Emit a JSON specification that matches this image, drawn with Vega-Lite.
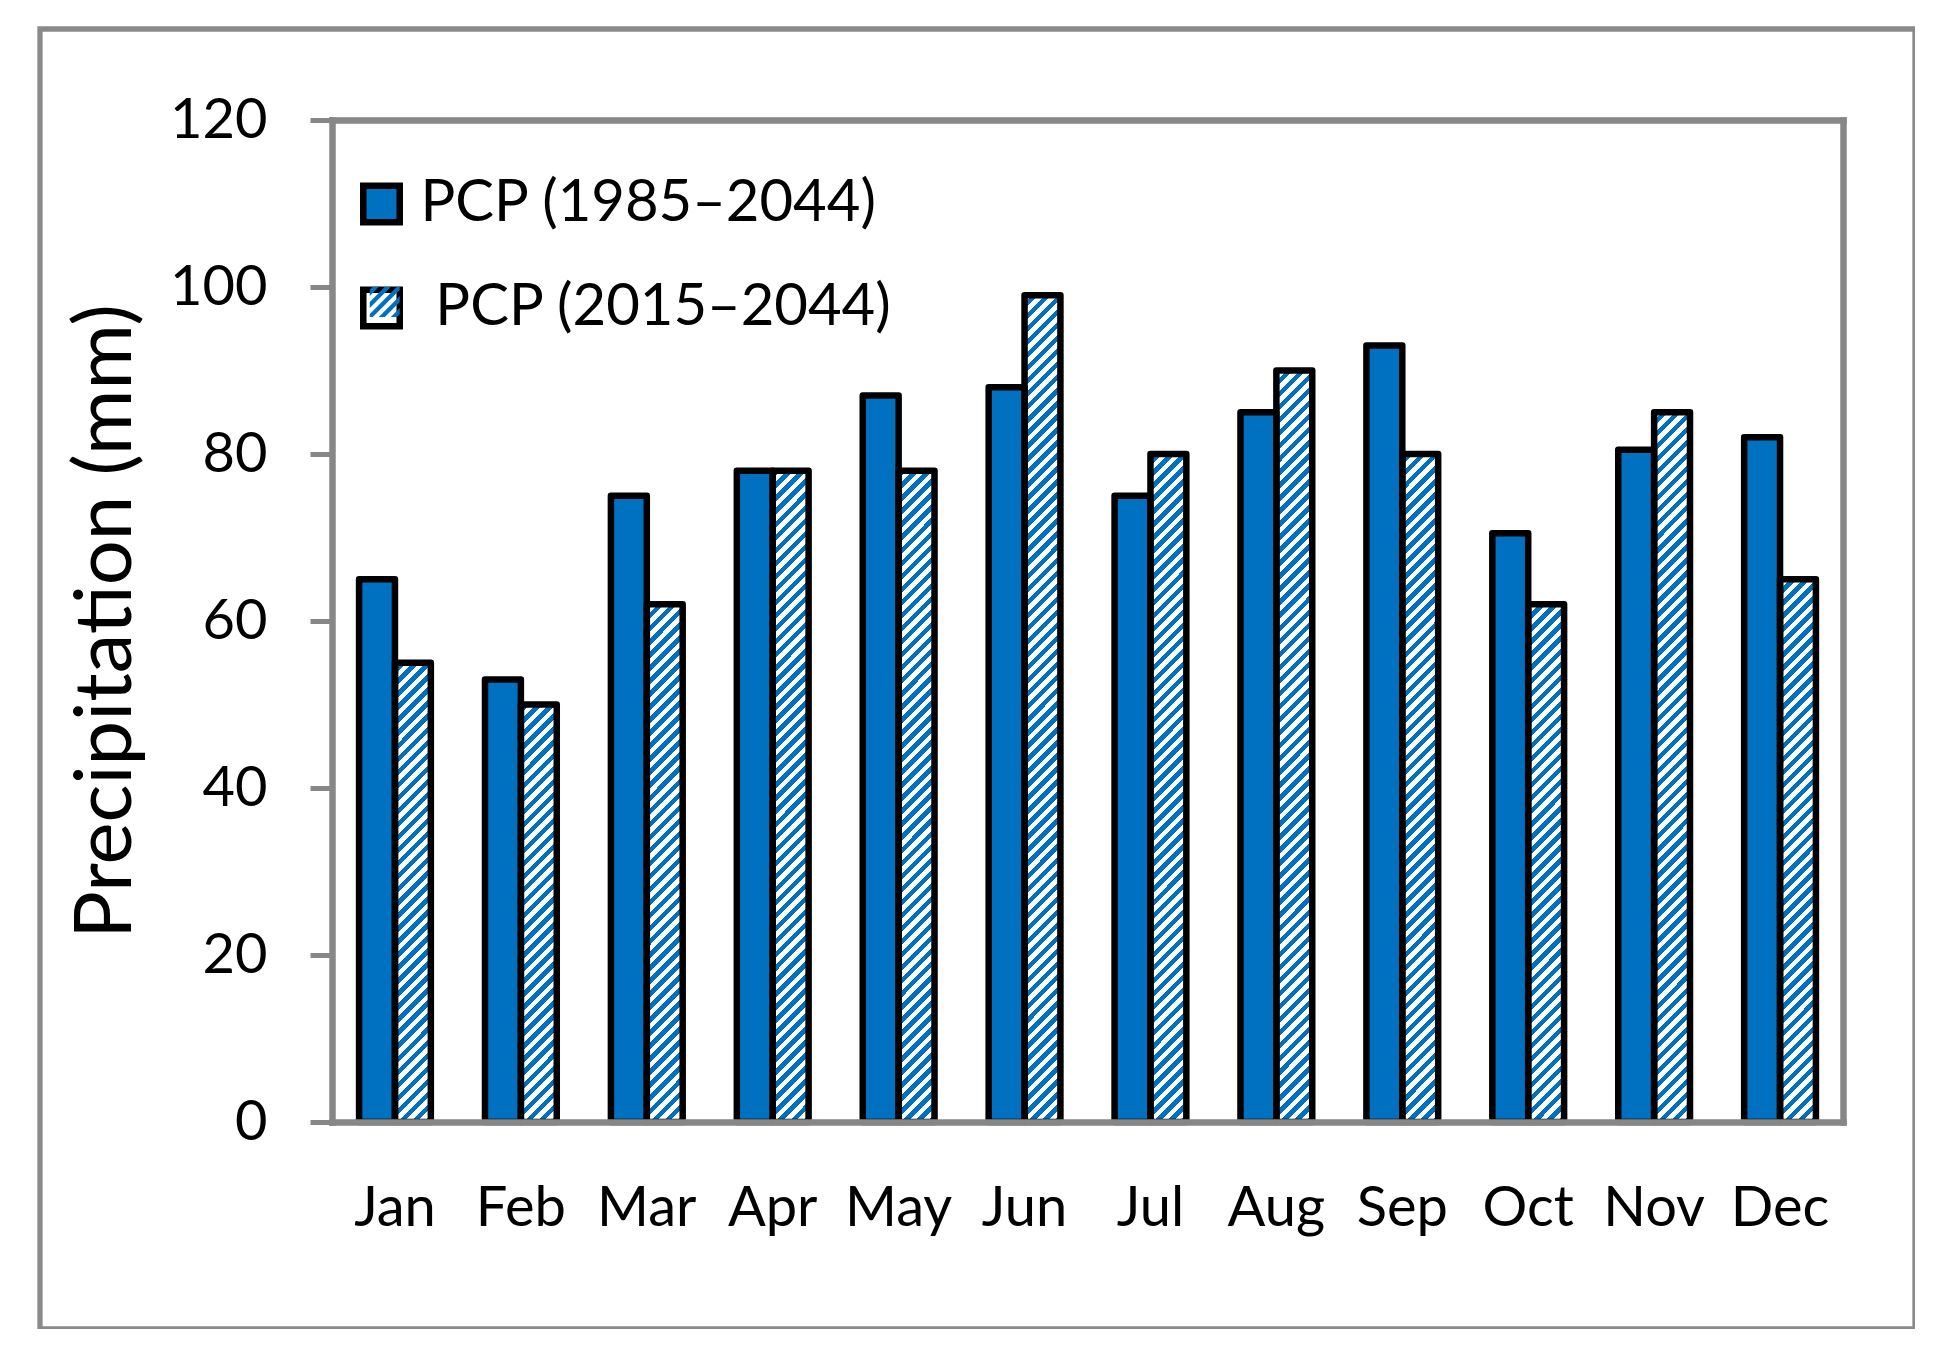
{
"$schema": "https://vega.github.io/schema/vega-lite/v6.json",
"width": 1875,
"height": 1300,
"autosize": {"type": "none"},
"padding": {"left": 40, "top": 29, "right": 0, "bottom": 0},
"background": "white",
"data": {"values": [
{"month": "Jan", "series": "PCP (1985–2044)", "value": 65},
{"month": "Jan", "series": "PCP (2015–2044)", "value": 55},
{"month": "Feb", "series": "PCP (1985–2044)", "value": 53},
{"month": "Feb", "series": "PCP (2015–2044)", "value": 50},
{"month": "Mar", "series": "PCP (1985–2044)", "value": 75},
{"month": "Mar", "series": "PCP (2015–2044)", "value": 62},
{"month": "Apr", "series": "PCP (1985–2044)", "value": 78},
{"month": "Apr", "series": "PCP (2015–2044)", "value": 78},
{"month": "May", "series": "PCP (1985–2044)", "value": 87},
{"month": "May", "series": "PCP (2015–2044)", "value": 78},
{"month": "Jun", "series": "PCP (1985–2044)", "value": 88},
{"month": "Jun", "series": "PCP (2015–2044)", "value": 99},
{"month": "Jul", "series": "PCP (1985–2044)", "value": 75},
{"month": "Jul", "series": "PCP (2015–2044)", "value": 80},
{"month": "Aug", "series": "PCP (1985–2044)", "value": 85},
{"month": "Aug", "series": "PCP (2015–2044)", "value": 90},
{"month": "Sep", "series": "PCP (1985–2044)", "value": 93},
{"month": "Sep", "series": "PCP (2015–2044)", "value": 80},
{"month": "Oct", "series": "PCP (1985–2044)", "value": 70.5},
{"month": "Oct", "series": "PCP (2015–2044)", "value": 62},
{"month": "Nov", "series": "PCP (1985–2044)", "value": 80.5},
{"month": "Nov", "series": "PCP (2015–2044)", "value": 85},
{"month": "Dec", "series": "PCP (1985–2044)", "value": 82},
{"month": "Dec", "series": "PCP (2015–2044)", "value": 65}
]},
"encoding": {
"x": {"field": "month", "type": "nominal", "sort": ["Jan","Feb","Mar","Apr","May","Jun","Jul","Aug","Sep","Oct","Nov","Dec"], "scale": {"range": [292, 1803], "paddingInner": 0.43, "paddingOuter": 0.215}, "axis": null},
"xOffset": {"field": "series", "type": "nominal", "scale": {"domain": ["PCP (1985–2044)", "PCP (2015–2044)"], "paddingInner": 0, "paddingOuter": 0}}
},
"layer": [
{
"transform": [{"filter": "datum.series === 'PCP (2015–2044)'"}],
"mark": {"type": "bar", "strokeWidth": 0, "fill": {"gradient": "linear", "x1": 0, "y1": 0, "x2": 0.0373, "y2": 1.04, "stops": [
{"offset":0,"color":"#0070c0"},
{"offset":0.00625,"color":"#0070c0"},{"offset":0.00625,"color":"#fff"},
{"offset":0.0125,"color":"#fff"},{"offset":0.0125,"color":"#0070c0"},
{"offset":0.01875,"color":"#0070c0"},{"offset":0.01875,"color":"#fff"},
{"offset":0.025,"color":"#fff"},{"offset":0.025,"color":"#0070c0"},
{"offset":0.03125,"color":"#0070c0"},{"offset":0.03125,"color":"#fff"},
{"offset":0.0375,"color":"#fff"},{"offset":0.0375,"color":"#0070c0"},
{"offset":0.04375,"color":"#0070c0"},{"offset":0.04375,"color":"#fff"},
{"offset":0.05,"color":"#fff"},{"offset":0.05,"color":"#0070c0"},
{"offset":0.05625,"color":"#0070c0"},{"offset":0.05625,"color":"#fff"},
{"offset":0.0625,"color":"#fff"},{"offset":0.0625,"color":"#0070c0"},
{"offset":0.06875,"color":"#0070c0"},{"offset":0.06875,"color":"#fff"},
{"offset":0.075,"color":"#fff"},{"offset":0.075,"color":"#0070c0"},
{"offset":0.08125,"color":"#0070c0"},{"offset":0.08125,"color":"#fff"},
{"offset":0.0875,"color":"#fff"},{"offset":0.0875,"color":"#0070c0"},
{"offset":0.09375,"color":"#0070c0"},{"offset":0.09375,"color":"#fff"},
{"offset":0.1,"color":"#fff"},{"offset":0.1,"color":"#0070c0"},
{"offset":0.10625,"color":"#0070c0"},{"offset":0.10625,"color":"#fff"},
{"offset":0.1125,"color":"#fff"},{"offset":0.1125,"color":"#0070c0"},
{"offset":0.11875,"color":"#0070c0"},{"offset":0.11875,"color":"#fff"},
{"offset":0.125,"color":"#fff"},{"offset":0.125,"color":"#0070c0"},
{"offset":0.13125,"color":"#0070c0"},{"offset":0.13125,"color":"#fff"},
{"offset":0.1375,"color":"#fff"},{"offset":0.1375,"color":"#0070c0"},
{"offset":0.14375,"color":"#0070c0"},{"offset":0.14375,"color":"#fff"},
{"offset":0.15,"color":"#fff"},{"offset":0.15,"color":"#0070c0"},
{"offset":0.15625,"color":"#0070c0"},{"offset":0.15625,"color":"#fff"},
{"offset":0.1625,"color":"#fff"},{"offset":0.1625,"color":"#0070c0"},
{"offset":0.16875,"color":"#0070c0"},{"offset":0.16875,"color":"#fff"},
{"offset":0.175,"color":"#fff"},{"offset":0.175,"color":"#0070c0"},
{"offset":0.18125,"color":"#0070c0"},{"offset":0.18125,"color":"#fff"},
{"offset":0.1875,"color":"#fff"},{"offset":0.1875,"color":"#0070c0"},
{"offset":0.19375,"color":"#0070c0"},{"offset":0.19375,"color":"#fff"},
{"offset":0.2,"color":"#fff"},{"offset":0.2,"color":"#0070c0"},
{"offset":0.20625,"color":"#0070c0"},{"offset":0.20625,"color":"#fff"},
{"offset":0.2125,"color":"#fff"},{"offset":0.2125,"color":"#0070c0"},
{"offset":0.21875,"color":"#0070c0"},{"offset":0.21875,"color":"#fff"},
{"offset":0.225,"color":"#fff"},{"offset":0.225,"color":"#0070c0"},
{"offset":0.23125,"color":"#0070c0"},{"offset":0.23125,"color":"#fff"},
{"offset":0.2375,"color":"#fff"},{"offset":0.2375,"color":"#0070c0"},
{"offset":0.24375,"color":"#0070c0"},{"offset":0.24375,"color":"#fff"},
{"offset":0.25,"color":"#fff"},{"offset":0.25,"color":"#0070c0"},
{"offset":0.25625,"color":"#0070c0"},{"offset":0.25625,"color":"#fff"},
{"offset":0.2625,"color":"#fff"},{"offset":0.2625,"color":"#0070c0"},
{"offset":0.26875,"color":"#0070c0"},{"offset":0.26875,"color":"#fff"},
{"offset":0.275,"color":"#fff"},{"offset":0.275,"color":"#0070c0"},
{"offset":0.28125,"color":"#0070c0"},{"offset":0.28125,"color":"#fff"},
{"offset":0.2875,"color":"#fff"},{"offset":0.2875,"color":"#0070c0"},
{"offset":0.29375,"color":"#0070c0"},{"offset":0.29375,"color":"#fff"},
{"offset":0.3,"color":"#fff"},{"offset":0.3,"color":"#0070c0"},
{"offset":0.30625,"color":"#0070c0"},{"offset":0.30625,"color":"#fff"},
{"offset":0.3125,"color":"#fff"},{"offset":0.3125,"color":"#0070c0"},
{"offset":0.31875,"color":"#0070c0"},{"offset":0.31875,"color":"#fff"},
{"offset":0.325,"color":"#fff"},{"offset":0.325,"color":"#0070c0"},
{"offset":0.33125,"color":"#0070c0"},{"offset":0.33125,"color":"#fff"},
{"offset":0.3375,"color":"#fff"},{"offset":0.3375,"color":"#0070c0"},
{"offset":0.34375,"color":"#0070c0"},{"offset":0.34375,"color":"#fff"},
{"offset":0.35,"color":"#fff"},{"offset":0.35,"color":"#0070c0"},
{"offset":0.35625,"color":"#0070c0"},{"offset":0.35625,"color":"#fff"},
{"offset":0.3625,"color":"#fff"},{"offset":0.3625,"color":"#0070c0"},
{"offset":0.36875,"color":"#0070c0"},{"offset":0.36875,"color":"#fff"},
{"offset":0.375,"color":"#fff"},{"offset":0.375,"color":"#0070c0"},
{"offset":0.38125,"color":"#0070c0"},{"offset":0.38125,"color":"#fff"},
{"offset":0.3875,"color":"#fff"},{"offset":0.3875,"color":"#0070c0"},
{"offset":0.39375,"color":"#0070c0"},{"offset":0.39375,"color":"#fff"},
{"offset":0.4,"color":"#fff"},{"offset":0.4,"color":"#0070c0"},
{"offset":0.40625,"color":"#0070c0"},{"offset":0.40625,"color":"#fff"},
{"offset":0.4125,"color":"#fff"},{"offset":0.4125,"color":"#0070c0"},
{"offset":0.41875,"color":"#0070c0"},{"offset":0.41875,"color":"#fff"},
{"offset":0.425,"color":"#fff"},{"offset":0.425,"color":"#0070c0"},
{"offset":0.43125,"color":"#0070c0"},{"offset":0.43125,"color":"#fff"},
{"offset":0.4375,"color":"#fff"},{"offset":0.4375,"color":"#0070c0"},
{"offset":0.44375,"color":"#0070c0"},{"offset":0.44375,"color":"#fff"},
{"offset":0.45,"color":"#fff"},{"offset":0.45,"color":"#0070c0"},
{"offset":0.45625,"color":"#0070c0"},{"offset":0.45625,"color":"#fff"},
{"offset":0.4625,"color":"#fff"},{"offset":0.4625,"color":"#0070c0"},
{"offset":0.46875,"color":"#0070c0"},{"offset":0.46875,"color":"#fff"},
{"offset":0.475,"color":"#fff"},{"offset":0.475,"color":"#0070c0"},
{"offset":0.48125,"color":"#0070c0"},{"offset":0.48125,"color":"#fff"},
{"offset":0.4875,"color":"#fff"},{"offset":0.4875,"color":"#0070c0"},
{"offset":0.49375,"color":"#0070c0"},{"offset":0.49375,"color":"#fff"},
{"offset":0.5,"color":"#fff"},{"offset":0.5,"color":"#0070c0"},
{"offset":0.50625,"color":"#0070c0"},{"offset":0.50625,"color":"#fff"},
{"offset":0.5125,"color":"#fff"},{"offset":0.5125,"color":"#0070c0"},
{"offset":0.51875,"color":"#0070c0"},{"offset":0.51875,"color":"#fff"},
{"offset":0.525,"color":"#fff"},{"offset":0.525,"color":"#0070c0"},
{"offset":0.53125,"color":"#0070c0"},{"offset":0.53125,"color":"#fff"},
{"offset":0.5375,"color":"#fff"},{"offset":0.5375,"color":"#0070c0"},
{"offset":0.54375,"color":"#0070c0"},{"offset":0.54375,"color":"#fff"},
{"offset":0.55,"color":"#fff"},{"offset":0.55,"color":"#0070c0"},
{"offset":0.55625,"color":"#0070c0"},{"offset":0.55625,"color":"#fff"},
{"offset":0.5625,"color":"#fff"},{"offset":0.5625,"color":"#0070c0"},
{"offset":0.56875,"color":"#0070c0"},{"offset":0.56875,"color":"#fff"},
{"offset":0.575,"color":"#fff"},{"offset":0.575,"color":"#0070c0"},
{"offset":0.58125,"color":"#0070c0"},{"offset":0.58125,"color":"#fff"},
{"offset":0.5875,"color":"#fff"},{"offset":0.5875,"color":"#0070c0"},
{"offset":0.59375,"color":"#0070c0"},{"offset":0.59375,"color":"#fff"},
{"offset":0.6,"color":"#fff"},{"offset":0.6,"color":"#0070c0"},
{"offset":0.60625,"color":"#0070c0"},{"offset":0.60625,"color":"#fff"},
{"offset":0.6125,"color":"#fff"},{"offset":0.6125,"color":"#0070c0"},
{"offset":0.61875,"color":"#0070c0"},{"offset":0.61875,"color":"#fff"},
{"offset":0.625,"color":"#fff"},{"offset":0.625,"color":"#0070c0"},
{"offset":0.63125,"color":"#0070c0"},{"offset":0.63125,"color":"#fff"},
{"offset":0.6375,"color":"#fff"},{"offset":0.6375,"color":"#0070c0"},
{"offset":0.64375,"color":"#0070c0"},{"offset":0.64375,"color":"#fff"},
{"offset":0.65,"color":"#fff"},{"offset":0.65,"color":"#0070c0"},
{"offset":0.65625,"color":"#0070c0"},{"offset":0.65625,"color":"#fff"},
{"offset":0.6625,"color":"#fff"},{"offset":0.6625,"color":"#0070c0"},
{"offset":0.66875,"color":"#0070c0"},{"offset":0.66875,"color":"#fff"},
{"offset":0.675,"color":"#fff"},{"offset":0.675,"color":"#0070c0"},
{"offset":0.68125,"color":"#0070c0"},{"offset":0.68125,"color":"#fff"},
{"offset":0.6875,"color":"#fff"},{"offset":0.6875,"color":"#0070c0"},
{"offset":0.69375,"color":"#0070c0"},{"offset":0.69375,"color":"#fff"},
{"offset":0.7,"color":"#fff"},{"offset":0.7,"color":"#0070c0"},
{"offset":0.70625,"color":"#0070c0"},{"offset":0.70625,"color":"#fff"},
{"offset":0.7125,"color":"#fff"},{"offset":0.7125,"color":"#0070c0"},
{"offset":0.71875,"color":"#0070c0"},{"offset":0.71875,"color":"#fff"},
{"offset":0.725,"color":"#fff"},{"offset":0.725,"color":"#0070c0"},
{"offset":0.73125,"color":"#0070c0"},{"offset":0.73125,"color":"#fff"},
{"offset":0.7375,"color":"#fff"},{"offset":0.7375,"color":"#0070c0"},
{"offset":0.74375,"color":"#0070c0"},{"offset":0.74375,"color":"#fff"},
{"offset":0.75,"color":"#fff"},{"offset":0.75,"color":"#0070c0"},
{"offset":0.75625,"color":"#0070c0"},{"offset":0.75625,"color":"#fff"},
{"offset":0.7625,"color":"#fff"},{"offset":0.7625,"color":"#0070c0"},
{"offset":0.76875,"color":"#0070c0"},{"offset":0.76875,"color":"#fff"},
{"offset":0.775,"color":"#fff"},{"offset":0.775,"color":"#0070c0"},
{"offset":0.78125,"color":"#0070c0"},{"offset":0.78125,"color":"#fff"},
{"offset":0.7875,"color":"#fff"},{"offset":0.7875,"color":"#0070c0"},
{"offset":0.79375,"color":"#0070c0"},{"offset":0.79375,"color":"#fff"},
{"offset":0.8,"color":"#fff"},{"offset":0.8,"color":"#0070c0"},
{"offset":0.80625,"color":"#0070c0"},{"offset":0.80625,"color":"#fff"},
{"offset":0.8125,"color":"#fff"},{"offset":0.8125,"color":"#0070c0"},
{"offset":0.81875,"color":"#0070c0"},{"offset":0.81875,"color":"#fff"},
{"offset":0.825,"color":"#fff"},{"offset":0.825,"color":"#0070c0"},
{"offset":0.83125,"color":"#0070c0"},{"offset":0.83125,"color":"#fff"},
{"offset":0.8375,"color":"#fff"},{"offset":0.8375,"color":"#0070c0"},
{"offset":0.84375,"color":"#0070c0"},{"offset":0.84375,"color":"#fff"},
{"offset":0.85,"color":"#fff"},{"offset":0.85,"color":"#0070c0"},
{"offset":0.85625,"color":"#0070c0"},{"offset":0.85625,"color":"#fff"},
{"offset":0.8625,"color":"#fff"},{"offset":0.8625,"color":"#0070c0"},
{"offset":0.86875,"color":"#0070c0"},{"offset":0.86875,"color":"#fff"},
{"offset":0.875,"color":"#fff"},{"offset":0.875,"color":"#0070c0"},
{"offset":0.88125,"color":"#0070c0"},{"offset":0.88125,"color":"#fff"},
{"offset":0.8875,"color":"#fff"},{"offset":0.8875,"color":"#0070c0"},
{"offset":0.89375,"color":"#0070c0"},{"offset":0.89375,"color":"#fff"},
{"offset":0.9,"color":"#fff"},{"offset":0.9,"color":"#0070c0"},
{"offset":0.90625,"color":"#0070c0"},{"offset":0.90625,"color":"#fff"},
{"offset":0.9125,"color":"#fff"},{"offset":0.9125,"color":"#0070c0"},
{"offset":0.91875,"color":"#0070c0"},{"offset":0.91875,"color":"#fff"},
{"offset":0.925,"color":"#fff"},{"offset":0.925,"color":"#0070c0"},
{"offset":0.93125,"color":"#0070c0"},{"offset":0.93125,"color":"#fff"},
{"offset":0.9375,"color":"#fff"},{"offset":0.9375,"color":"#0070c0"},
{"offset":0.94375,"color":"#0070c0"},{"offset":0.94375,"color":"#fff"},
{"offset":0.95,"color":"#fff"},{"offset":0.95,"color":"#0070c0"},
{"offset":0.95625,"color":"#0070c0"},{"offset":0.95625,"color":"#fff"},
{"offset":0.9625,"color":"#fff"},{"offset":0.9625,"color":"#0070c0"},
{"offset":0.96875,"color":"#0070c0"},{"offset":0.96875,"color":"#fff"},
{"offset":0.975,"color":"#fff"},{"offset":0.975,"color":"#0070c0"},
{"offset":0.98125,"color":"#0070c0"},{"offset":0.98125,"color":"#fff"},
{"offset":0.9875,"color":"#fff"},{"offset":0.9875,"color":"#0070c0"},
{"offset":0.99375,"color":"#0070c0"},{"offset":0.99375,"color":"#fff"},
{"offset":1,"color":"#fff"}
]}},
"encoding": {
"y": {"datum": 120, "type": "quantitative", "scale": {"domain": [0, 120], "range": [1093, 91], "nice": false}, "axis": null},
"y2": {"datum": 0}
}
},
{
"transform": [{"filter": "datum.series === 'PCP (2015–2044)'"}],
"mark": {"type": "bar", "fill": "white", "stroke": "white", "strokeWidth": 2},
"encoding": {
"y": {"field": "value", "type": "quantitative", "scale": {"domain": [0, 120], "range": [1093, 91], "nice": false}, "axis": null},
"y2": {"datum": 120}
}
},
{
"mark": {"type": "bar", "stroke": "black", "strokeWidth": 6.5, "strokeJoin": "round"},
"encoding": {
"x": {"field": "month", "type": "nominal", "sort": ["Jan","Feb","Mar","Apr","May","Jun","Jul","Aug","Sep","Oct","Nov","Dec"], "scale": {"range": [292, 1803], "paddingInner": 0.43, "paddingOuter": 0.215},
"axis": {"orient": "bottom", "offset": -207, "title": null, "domain": true, "domainColor": "#878787", "domainWidth": 6.5, "domainCap": "square", "ticks": false, "tickSize": 0, "labelAngle": 0, "labelFont": "Lato", "labelFontSize": 56, "labelColor": "black", "labelPadding": 59, "labelOverlap": false, "grid": false, "zindex": 1}},
"y": {"field": "value", "type": "quantitative", "scale": {"domain": [0, 120], "range": [1093, 91], "nice": false},
"axis": {"orient": "left", "offset": -292, "values": [0, 20, 40, 60, 80, 100, 120], "title": "Precipitation (mm)", "titleFont": "Lato", "titleFontSize": 79.5, "titleFontWeight": "normal", "titleColor": "black", "titlePadding": 22, "domain": true, "domainColor": "#878787", "domainWidth": 6.5, "domainCap": "square", "ticks": true, "tickColor": "#878787", "tickWidth": 5, "tickSize": 22, "labelFont": "Lato", "labelFontSize": 56, "labelColor": "black", "labelPadding": 43, "grid": false, "zindex": 1}},
"fill": {"field": "series", "type": "nominal", "scale": {"range": ["#0070c0", "transparent"]},
"legend": {"title": null, "orient": "none", "legendX": 312.5, "legendY": 146, "padding": 0, "symbolType": "square", "symbolSize": 1330, "symbolStrokeColor": "black", "symbolStrokeWidth": 6.5, "labelFont": "Lato", "labelFontSize": 58, "labelColor": "black", "labelOffset": 10, "labelLimit": 2000, "rowPadding": 40,
"labelExpr": "indexof(datum.label, '2015') >= 0 ? '\u200b\u00a0' + datum.label : datum.label"}
}
}
},
{
"mark": {"type": "bar", "opacity": 0},
"encoding": {
"x": {"field": "month", "type": "nominal", "sort": ["Jan","Feb","Mar","Apr","May","Jun","Jul","Aug","Sep","Oct","Nov","Dec"], "scale": {"range": [292, 1803], "paddingInner": 0.43, "paddingOuter": 0.215},
"axis": {"orient": "top", "offset": -91, "title": null, "labels": false, "ticks": false, "tickSize": 0, "domain": true, "domainColor": "#878787", "domainWidth": 6.5, "domainCap": "square", "grid": false, "zindex": 1}},
"y": {"field": "value", "type": "quantitative", "scale": {"domain": [0, 120], "range": [1093, 91], "nice": false},
"axis": {"orient": "right", "offset": -72, "title": null, "labels": false, "ticks": false, "tickSize": 0, "domain": true, "domainColor": "#878787", "domainWidth": 6.5, "domainCap": "square", "grid": false, "zindex": 1}}
}
},
{
"mark": {"type": "point", "filled": true, "color": "#0070c0", "opacity": 0},
"encoding": {
"y": {"field": "value", "type": "quantitative", "scale": {"domain": [0, 120], "range": [1093, 91], "nice": false}, "axis": null},
"shape": {"field": "series", "type": "nominal",
"scale": {"domain": ["PCP (1985–2044)", "PCP (2015–2044)"], "range": [
"M0,0L0,0Z",
"M-0.82,-0.665L-0.665,-0.82L-0.335,-0.82L-0.82,-0.335Z M-0.82,-0.005L-0.005,-0.82L0.325,-0.82L-0.82,0.325Z M-0.82,0.655L0.655,-0.82L0.82,-0.82L0.82,-0.655L-0.655,0.82L-0.82,0.82Z M-0.325,0.82L0.82,-0.325L0.82,0.005L0.005,0.82Z M0.335,0.82L0.82,0.335L0.82,0.665L0.665,0.82Z"
]},
"legend": {"title": null, "orient": "none", "legendX": 315.75, "legendY": 146, "padding": 0, "symbolSize": 1330, "symbolStrokeWidth": 0, "symbolStrokeColor": "transparent", "symbolFillColor": "#0070c0", "symbolOpacity": 1, "labelFont": "Lato", "labelFontSize": 58, "labelColor": "transparent", "labelOffset": 13.25, "labelLimit": 2000, "rowPadding": 40,
"labelExpr": "'\u00a0'"}
}
}
}
],
"resolve": {"axis": {"x": "independent", "y": "independent"}},
"config": {"view": {"stroke": "#8a8a8a", "strokeWidth": 5.3}, "font": "Lato"}
}
